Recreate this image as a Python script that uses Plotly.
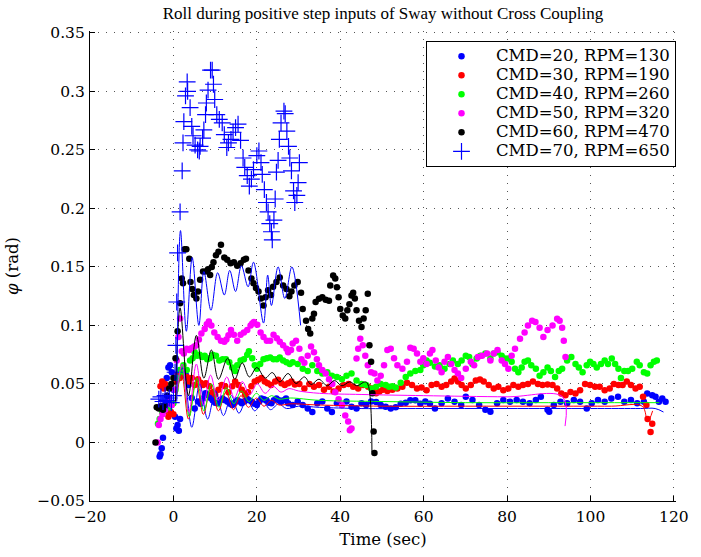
import plotly.graph_objects as go

legend_labels = ["CMD=20, RPM=130", "CMD=30, RPM=190", "CMD=40, RPM=260",
                 "CMD=50, RPM=320", "CMD=60, RPM=470", "CMD=70, RPM=650"]

t20 = [-3.3,-3.1,-2.8,-2.5,-2.0,-1.6,-1.2,-0.8,-0.4,0.0,0.4,0.7,1.0,1.3,1.6,2.0,2.4,3.0,3.6,4.4,
       5.1,5.9,6.5,7.1,7.7,8.3,8.9,9.4,10.0,10.6,11.2,11.8,12.4,13.0,13.6,14.1,14.7,15.3,15.9,16.4,
       17.0,17.6,18.2,18.8,19.4,20.0,20.6,21.1,21.7,22.3,22.9,23.5,24.1,24.7,25.3,25.8,26.4,27.0,27.5,28.6,
       29.8,31.0,32.2,33.3,34.5,35.7,36.9,38.0,39.2,40.4,41.5,42.7,43.9,45.1,46.2,47.4,48.6,49.7,50.9,52.1,
       53.3,54.5,55.7,56.8,58.0,59.2,60.4,61.5,62.7,64.3,65.8,67.4,69.0,70.1,71.7,73.3,74.8,76.0,77.6,79.1,
       80.7,82.3,83.8,85.4,86.9,88.1,89.7,90.1,91.2,92.8,94.4,96.0,97.5,99.1,100.3,101.8,103.4,105.0,106.6,108.1,
       109.7,111.2,112.8,113.6,114.8,115.6,116.4,117.2,118.0]
phi20 = [-0.012,-0.010,-0.005,0.004,0.047,0.055,0.064,0.066,0.060,0.045,0.022,0.012,0.015,0.010,0.020,0.057,0.062,0.0575,0.049,0.038,
         0.029,0.035,0.033,0.0376,0.042,0.0405,0.038,0.036,0.034,0.0334,0.036,0.0376,0.036,0.0348,0.033,0.032,0.034,0.036,0.035,0.0334,
         0.035,0.0376,0.036,0.0348,0.033,0.032,0.035,0.0376,0.037,0.036,0.034,0.0334,0.036,0.0376,0.036,0.0348,0.036,0.0376,0.0334,0.032,
         0.035,0.032,0.029,0.026,0.0334,0.035,0.029,0.026,0.0334,0.032,0.035,0.0305,0.029,0.0334,0.032,0.035,0.0345,0.032,0.0305,0.029,
         0.030,0.033,0.034,0.036,0.036,0.033,0.035,0.033,0.029,0.0334,0.0376,0.0348,0.032,0.039,0.0362,0.032,0.028,0.0263,0.0334,0.0362,
         0.0348,0.0362,0.0348,0.0334,0.0362,0.039,0.028,0.0263,0.032,0.0348,0.0334,0.0362,0.0348,0.029,0.0334,0.0362,0.0348,0.0376,0.039,0.0348,
         0.0362,0.0334,0.0348,0.0418,0.0404,0.039,0.0348,0.0376,0.0348]

t30 = [-3.1,-2.7,-2.3,-2.0,-1.6,-1.2,-0.6,0.0,0.5,1.0,1.5,2.0,2.4,3.2,3.8,4.4,5.1,5.9,6.5,7.1,
       7.8,8.6,9.4,10.0,10.8,11.6,12.4,13.2,14.1,14.8,15.6,16.4,17.2,17.9,18.7,19.5,20.3,21.1,21.9,22.6,
       23.4,24.4,25.1,25.9,26.7,27.5,28.3,29.1,30.2,31.4,32.6,33.7,34.9,36.1,37.3,38.4,39.6,40.8,42.0,43.1,
       44.3,45.5,46.7,47.8,48.6,49.4,50.2,51.3,52.5,53.7,54.9,56.0,57.2,58.4,59.5,60.7,61.9,63.1,64.3,65.4,
       66.6,67.4,68.2,69.1,70.1,71.3,72.5,73.5,74.4,75.6,76.8,77.9,79.1,80.3,81.5,82.7,83.8,85.0,86.2,87.4,
       88.5,89.7,90.9,92.0,93.0,94.0,95.2,96.4,97.5,98.7,99.9,101.1,102.2,103.4,104.6,105.6,106.7,107.7,108.7,109.7,
       110.8,111.8,112.6,113.4,113.7,114.4,114.8]
phi30 = [0.048,0.052,0.046,0.050,0.027,0.022,0.026,0.024,0.052,0.058,0.055,0.060,0.0616,0.056,0.052,0.055,0.049,0.054,0.051,0.049,
         0.0505,0.048,0.043,0.041,0.045,0.049,0.048,0.043,0.048,0.052,0.049,0.045,0.041,0.043,0.048,0.052,0.0535,0.055,0.052,0.0505,
         0.049,0.052,0.0535,0.0505,0.049,0.0505,0.052,0.0495,0.050,0.046,0.050,0.0475,0.049,0.045,0.0475,0.0435,0.046,0.049,0.050,0.0475,
         0.046,0.049,0.0475,0.046,0.042,0.0435,0.045,0.044,0.045,0.046,0.0475,0.051,0.049,0.046,0.047,0.0447,0.049,0.050,0.0475,0.049,
         0.052,0.0547,0.052,0.049,0.046,0.049,0.053,0.0537,0.052,0.049,0.046,0.0475,0.0447,0.046,0.049,0.0475,0.049,0.050,0.052,0.050,
         0.049,0.0495,0.049,0.046,0.0418,0.0404,0.0432,0.0418,0.0447,0.050,0.049,0.0475,0.0475,0.0447,0.046,0.050,0.049,0.049,0.052,0.049,
         0.046,0.0475,0.039,0.032,0.020,0.009,0.016]

t40 = [-3.7,-3.3,-2.7,-2.2,-1.6,-1.0,-0.5,0.0,0.5,1.0,1.5,2.0,2.4,3.2,4.0,4.6,5.1,5.7,6.3,6.9,
       7.5,8.1,8.7,9.4,10.2,11.0,11.8,12.6,13.4,14.1,14.8,15.3,16.1,16.9,17.7,18.1,18.9,19.5,20.0,20.8,
       21.6,22.4,23.2,24.0,24.8,25.5,26.3,27.1,27.9,28.6,29.8,31.0,32.2,33.3,34.5,35.7,36.9,38.0,39.2,40.4,
       41.5,42.7,43.9,45.1,46.2,47.4,48.6,49.7,50.9,51.7,52.5,53.3,54.5,55.7,56.8,58.0,59.2,59.9,60.7,61.5,
       62.7,63.8,65.0,66.2,67.0,68.2,69.1,70.1,70.9,71.7,72.7,73.6,74.8,76.0,76.8,77.7,78.7,79.5,80.3,81.1,
       81.9,82.7,83.5,84.2,85.0,85.8,86.9,87.8,88.7,89.7,90.5,91.5,92.4,93.2,94.4,95.4,96.4,97.2,98.1,99.1,
       99.9,100.7,101.5,102.5,103.4,104.2,105.1,105.9,106.7,107.3,108.1,109.0,110.0,111.1,111.8,112.8,113.6,114.4,115.2,115.9]
phi40 = [0.016,0.020,0.026,0.028,0.031,0.030,0.033,0.0335,0.045,0.055,0.062,0.060,0.066,0.062,0.070,0.072,0.077,0.074,0.075,0.073,
         0.074,0.071,0.072,0.075,0.074,0.070,0.071,0.071,0.0685,0.064,0.061,0.066,0.070,0.071,0.075,0.078,0.072,0.066,0.063,0.067,
         0.071,0.072,0.0725,0.071,0.071,0.0725,0.070,0.0685,0.067,0.0685,0.067,0.063,0.061,0.066,0.061,0.059,0.060,0.057,0.056,0.054,
         0.057,0.059,0.053,0.050,0.049,0.046,0.0475,0.050,0.049,0.0475,0.048,0.047,0.051,0.056,0.059,0.061,0.062,0.066,0.070,0.068,
         0.065,0.066,0.063,0.067,0.070,0.067,0.070,0.074,0.073,0.067,0.0717,0.074,0.076,0.0717,0.076,0.077,0.074,0.0717,0.0717,0.069,
         0.063,0.060,0.064,0.069,0.070,0.066,0.063,0.057,0.060,0.064,0.061,0.056,0.061,0.063,0.070,0.073,0.067,0.064,0.060,0.066,
         0.069,0.067,0.064,0.067,0.070,0.067,0.0717,0.067,0.063,0.055,0.061,0.061,0.063,0.069,0.066,0.060,0.059,0.066,0.069,0.070]

t50 = [-3.8,-3.5,-3.1,-2.6,-2.0,-1.5,-1.1,-0.4,0.3,0.8,1.2,1.6,2.0,2.5,3.2,3.8,4.4,5.0,5.5,6.1,
       6.7,7.5,8.0,8.5,9.1,9.8,10.6,11.4,12.2,12.7,13.2,13.8,14.5,15.3,16.1,16.9,17.7,18.5,18.9,19.3,
       20.1,20.9,21.6,22.4,23.2,24.0,24.8,25.5,26.3,27.1,27.5,28.2,28.6,29.4,30.2,30.7,31.4,32.2,33.0,33.7,
       34.4,34.9,35.7,36.5,37.3,38.1,38.8,39.6,40.4,41.2,41.9,42.3,42.7,43.9,44.3,44.8,45.4,46.0,46.6,47.4,
       48.2,48.9,49.7,50.5,51.3,52.1,52.9,53.7,54.9,56.0,56.8,57.6,58.4,59.2,59.9,60.7,61.5,62.1,62.9,63.6,
       64.3,65.0,65.8,66.6,67.4,68.2,69.0,70.1,71.3,72.1,73.0,74.0,75.2,76.0,76.8,77.7,78.7,79.5,80.3,81.1,
       81.9,83.1,84.2,85.0,86.0,86.8,87.8,88.7,89.7,90.9,92.0,92.6,93.2,93.6,94.0]
phi50 = [0.000,0.015,0.020,0.024,0.028,0.033,0.0376,0.032,0.045,0.070,0.090,0.106,0.078,0.076,0.080,0.079,0.0806,0.082,0.083,0.088,
         0.093,0.097,0.101,0.1034,0.100,0.094,0.090,0.087,0.086,0.088,0.0915,0.096,0.092,0.087,0.092,0.094,0.096,0.100,0.1017,0.103,
         0.1005,0.094,0.090,0.087,0.087,0.092,0.089,0.086,0.083,0.080,0.077,0.079,0.0845,0.087,0.080,0.071,0.068,0.074,0.082,0.077,
         0.071,0.066,0.062,0.059,0.054,0.050,0.043,0.037,0.032,0.023,0.018,0.0105,0.012,0.0717,0.080,0.0887,0.083,0.074,0.066,0.060,
         0.059,0.053,0.057,0.066,0.079,0.080,0.072,0.066,0.063,0.069,0.081,0.080,0.076,0.069,0.072,0.067,0.076,0.079,0.070,0.064,
         0.060,0.069,0.073,0.067,0.062,0.059,0.055,0.063,0.069,0.066,0.073,0.074,0.076,0.070,0.076,0.079,0.070,0.067,0.063,0.074,
         0.080,0.0886,0.094,0.100,0.104,0.103,0.098,0.090,0.096,0.100,0.1057,0.104,0.098,0.087,0.073]

t60 = [-4.3,-4.0,-3.5,-3.0,-2.5,-2.0,-1.5,-1.0,-0.5,0.0,0.5,1.0,1.6,2.0,2.3,2.7,3.1,3.8,4.1,4.5,
       4.9,5.5,5.9,6.4,7.1,7.8,8.3,8.8,9.2,9.6,10.2,10.8,11.4,12.2,12.9,13.7,14.5,15.3,16.1,16.9,
       17.4,18.0,18.7,19.2,19.8,20.4,21.0,21.6,22.1,22.7,23.4,23.9,24.7,25.5,26.3,27.1,27.8,28.3,29.0,29.8,
       30.6,31.0,31.8,32.3,32.8,33.3,33.7,34.1,34.9,35.7,36.5,37.3,37.6,38.3,38.8,39.2,39.6,40.0,40.6,41.2,
       41.7,42.2,42.7,43.1,43.5,43.9,44.5,45.1,45.6,46.1,46.6,47.0,47.4,47.7,48.0,48.2]
phi60 = [0.000,0.030,0.029,0.031,0.028,0.032,0.040,0.046,0.050,0.055,0.072,0.095,0.119,0.140,0.136,0.165,0.165,0.157,0.137,0.131,
         0.126,0.123,0.129,0.139,0.146,0.146,0.148,0.143,0.150,0.154,0.160,0.163,0.169,0.158,0.156,0.153,0.154,0.151,0.153,0.156,
         0.157,0.147,0.140,0.136,0.132,0.129,0.123,0.117,0.124,0.130,0.126,0.133,0.137,0.141,0.134,0.131,0.125,0.129,0.134,0.137,
         0.128,0.114,0.104,0.097,0.093,0.106,0.110,0.120,0.1227,0.124,0.122,0.121,0.134,0.1426,0.140,0.1327,0.124,0.114,0.1085,0.106,
         0.113,0.118,0.1255,0.128,0.123,0.113,0.104,0.0986,0.106,0.113,0.127,0.083,0.069,0.042,0.0093,-0.009]

t70 = [-3.5,-3.0,-2.5,-2.0,-1.5,-1.0,-0.5,0.0,0.4,0.6,0.8,1.0,1.6,2.1,2.3,2.5,2.9,3.3,3.4,4.0,
       4.4,4.7,5.2,5.8,6.2,6.4,7.0,7.3,7.7,7.9,8.3,8.9,9.3,9.6,9.9,10.4,11.0,11.7,12.2,12.8,
       13.2,13.8,14.3,14.9,15.5,16.1,16.7,17.1,17.7,18.2,18.7,19.2,20.0,20.5,21.0,21.3,21.8,22.3,22.7,23.1,
       23.5,23.7,24.1,24.4,24.7,25.1,25.4,25.8,26.5,26.8,27.2,27.6,27.9,28.3,28.8,29.1,29.6,29.9,30.2]
phi70 = [0.037,0.039,0.035,0.040,0.036,0.038,0.034,0.040,0.060,0.083,0.120,0.162,0.197,0.232,0.256,0.274,0.296,0.308,0.300,0.286,
         0.270,0.262,0.254,0.250,0.249,0.253,0.260,0.267,0.280,0.290,0.301,0.318,0.318,0.306,0.293,0.280,0.276,0.273,0.263,0.252,
         0.256,0.259,0.265,0.269,0.272,0.258,0.243,0.235,0.228,0.219,0.225,0.233,0.245,0.249,0.239,0.229,0.216,0.205,0.197,0.187,
         0.180,0.173,0.190,0.208,0.231,0.241,0.259,0.273,0.283,0.281,0.266,0.253,0.243,0.232,0.215,0.205,0.211,0.222,0.239]

# model responses (thin lines), peaks / troughs
tm20 = [0.5,2.3,4.4,6.3,8.2,10.1,12.0,13.9,15.7,17.6,19.5,21.4,23.3,25.2,27.1,30,35,45,60,80,100,112,115.5,117.5]
pm20 = [0.035,0.064,0.013,0.050,0.020,0.044,0.023,0.040,0.025,0.037,0.027,0.035,0.028,0.033,0.029,0.031,0.030,0.029,0.029,0.029,0.029,0.029,0.029,0.026]
tm30 = [0.5,2.0,3.6,5.4,7.2,9.0,10.8,12.6,14.4,16.2,18.0,19.9,21.7,23.5,25.3,28,35,50,70,90,105,112.4,113.7,114.9]
pm30 = [0.035,0.058,0.020,0.052,0.024,0.047,0.027,0.043,0.028,0.040,0.030,0.038,0.031,0.036,0.032,0.033,0.032,0.031,0.031,0.031,0.031,0.031,0.018,0.027]
tm40 = [0.5,2.1,3.8,5.6,7.3,9.1,10.9,12.7,14.5,16.3,18.1,19.9,21.7,23.5,25.3,28,35,50,70,90,110,116.5]
pm40 = [0.035,0.062,0.022,0.055,0.027,0.050,0.030,0.047,0.033,0.044,0.035,0.042,0.036,0.040,0.037,0.038,0.036,0.035,0.034,0.034,0.034,0.034]
tm50 = [0.5,2.1,3.7,5.5,7.2,8.9,10.7,12.8,14.6,16.5,18.3,20.1,22.0,23.9,25.8,27.7,30,35,45,60,80,93.3,93.9]
pm50 = [0.035,0.067,0.026,0.067,0.032,0.0575,0.036,0.056,0.038,0.052,0.041,0.050,0.042,0.048,0.043,0.046,0.044,0.042,0.041,0.040,0.039,0.039,0.014]
tm60 = [0.5,1.6,3.6,5.5,7.3,9.1,10.8,13.0,14.7,16.5,18.2,20.0,22.0,23.7,25.5,27.5,29.4,31.4,33.0,34.9,36.9,38.6,40.4,42.3,44.0,45.9,46.6,47.6]
pm60 = [0.035,0.115,0.040,0.0915,0.055,0.079,0.054,0.072,0.054,0.068,0.056,0.064,0.055,0.0597,0.0518,0.0589,0.0504,0.056,0.0496,0.054,0.0484,0.053,0.0484,0.0518,0.0484,0.0518,0.050,-0.008]
tm70 = [0.8,1.7,3.1,4.5,6.1,7.3,9.0,10.6,12.2,13.5,14.9,16.3,17.9,19.2,21.6,22.6,23.5,25.1,26.7,28.4,30.5]
pm70 = [0.035,0.181,0.095,0.158,0.100,0.146,0.113,0.145,0.126,0.147,0.129,0.151,0.133,0.154,0.102,0.143,0.117,0.150,0.123,0.150,0.100]

colors = ["#0000ff", "#ff0000", "#00ff00", "#ff00ff", "#000000", "#0000ff"]

dot_series = [(t20, phi20), (t30, phi30), (t40, phi40), (t50, phi50), (t60, phi60)]
model_series = [(tm20, pm20), (tm30, pm30), (tm40, pm40), (tm50, pm50), (tm60, pm60), (tm70, pm70)]

for a, b in dot_series + [(t70, phi70)] + model_series:
    assert len(a) == len(b), (len(a), len(b))

SERIF = "DejaVu Serif, serif"
TITLE_SERIF = "Liberation Serif, DejaVu Serif, serif"

fig = go.Figure()
for i, (tt, pp) in enumerate(dot_series):
    fig.add_trace(go.Scatter(
        x=tt, y=pp, mode="markers",
        name='<span style="font-size:16.5px">' + legend_labels[i] + '</span>',
        marker=dict(color=colors[i], size=6.5, line=dict(width=0)),
    ))
fig.add_trace(go.Scatter(
    x=t70, y=phi70, mode="markers",
    name='<span style="font-size:16.5px">' + legend_labels[5] + '</span>',
    marker=dict(color=colors[5], size=12, symbol="cross-thin",
                line=dict(color=colors[5], width=1.2)),
))
for i, (tt, pp) in enumerate(model_series):
    fig.add_trace(go.Scatter(
        x=tt, y=pp, mode="lines", showlegend=False, hoverinfo="skip",
        line=dict(color=colors[i], width=1, shape="spline", smoothing=1.0),
    ))

axis_common = dict(
    showline=True, linecolor="black", linewidth=1.2, mirror=False,
    ticks="inside", ticklen=5, tickcolor="black", tickwidth=1,
    showgrid=True, gridcolor="#555555", gridwidth=1, griddash="1px,7px",
    zeroline=False,
    tickfont=dict(family=SERIF, size=15.5, color="black"),
)

fig.update_layout(
    width=701, height=557, autosize=False,
    margin=dict(l=88, r=15, t=31, b=54),
    paper_bgcolor="white", plot_bgcolor="white",
    title=dict(text="Roll during positive step inputs of Sway without Cross Coupling",
               font=dict(family=TITLE_SERIF, size=17, color="black"),
               x=0.5, xref="paper", y=1 - 13 / 557, yref="container",
               xanchor="center", yanchor="middle"),
    xaxis=dict(range=[-20, 120.5], dtick=20, tick0=0, ticklabelstandoff=1,
               title=dict(text="Time (sec)", font=dict(family=SERIF, size=16.5, color="black"), standoff=8),
               **axis_common),
    yaxis=dict(range=[-0.05, 0.3515], dtick=0.05, tick0=0, ticklabelstandoff=1,
               title=dict(text="<i>φ</i> (rad)", font=dict(family=SERIF, size=16.5, color="black"), standoff=14),
               **axis_common),
    legend=dict(x=1.0, y=0.979, xanchor="right", yanchor="top",
                bgcolor="white", bordercolor="black", borderwidth=1,
                font=dict(family=SERIF, size=12, color="black"),
                itemwidth=59, tracegroupgap=0, itemclick=False),
    showlegend=True,
)

# the page body has a default 8px margin; remove it so the figure sits at the window origin
fig.write_html("out.html", config={"displayModeBar": False},
               post_script="document.body.style.margin='0';")
